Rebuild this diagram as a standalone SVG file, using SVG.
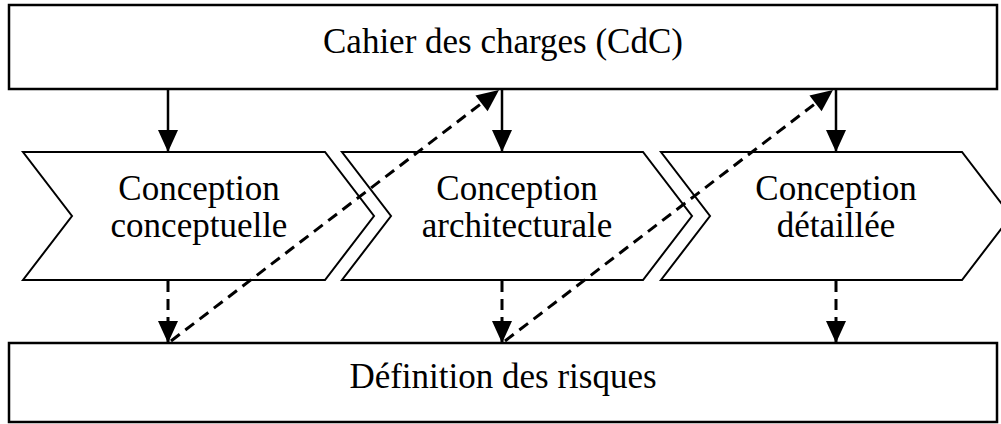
<svg xmlns="http://www.w3.org/2000/svg" width="1001" height="424" viewBox="0 0 1001 424">
<style>
.box{fill:#fff;stroke:#000;stroke-width:2.5}
.chev{fill:#fff;stroke:#000;stroke-width:2}
.lbl{font-family:"Liberation Serif","Times New Roman",serif;font-size:35px;fill:#000;text-anchor:middle}
.solid{stroke:#000;stroke-width:2.5;fill:none}
.dash{stroke:#000;stroke-width:3;fill:none;stroke-dasharray:11 7}
</style>
<defs>
<marker id="ah" markerUnits="userSpaceOnUse" markerWidth="22" markerHeight="20" refX="22" refY="10" orient="auto" overflow="visible">
<path d="M0,0 L22,10 L0,20 Z" fill="#000" stroke="none"/>
</marker>
</defs>
<rect width="1001" height="424" fill="#fff"/>
<g id="cdc">
<rect class="box" x="9" y="5" width="988" height="84"/>
<text class="lbl" x="503" y="53">Cahier des charges (CdC)</text>
</g>
<g id="conceptuelle">
<polygon class="chev" points="23,152 325,152 374,216 325,280 23,280 72,216"/>
<text class="lbl" x="199" y="200">Conception</text>
<text class="lbl" x="199" y="237">conceptuelle</text>
</g>
<g id="architecturale">
<polygon class="chev" points="342,152 643,152 692,216 643,280 342,280 391,216"/>
<text class="lbl" x="517" y="200">Conception</text>
<text class="lbl" x="517" y="237">architecturale</text>
</g>
<g id="detaillee">
<polygon class="chev" points="661,152 962,152 1011,216 962,280 661,280 710,216"/>
<text class="lbl" x="836" y="200">Conception</text>
<text class="lbl" x="836" y="237">détaillée</text>
</g>
<g id="risques">
<rect class="box" x="9" y="343" width="988" height="79"/>
<text class="lbl" x="503" y="388">Définition des risques</text>
</g>
<g id="connectors">
<line class="solid" x1="168" y1="89" x2="168" y2="152" marker-end="url(#ah)"/>
<line class="solid" x1="502" y1="89" x2="502" y2="152" marker-end="url(#ah)"/>
<line class="solid" x1="836" y1="89" x2="836" y2="152" marker-end="url(#ah)"/>
<line class="dash" x1="168" y1="281" x2="168" y2="343" marker-end="url(#ah)"/>
<line class="dash" x1="502" y1="281" x2="502" y2="343" marker-end="url(#ah)"/>
<line class="dash" x1="836" y1="281" x2="836" y2="343" marker-end="url(#ah)"/>
<line class="dash" x1="171" y1="341" x2="499" y2="90" marker-end="url(#ah)"/>
<line class="dash" x1="505" y1="341" x2="833" y2="90" marker-end="url(#ah)"/>
</g>
</svg>
